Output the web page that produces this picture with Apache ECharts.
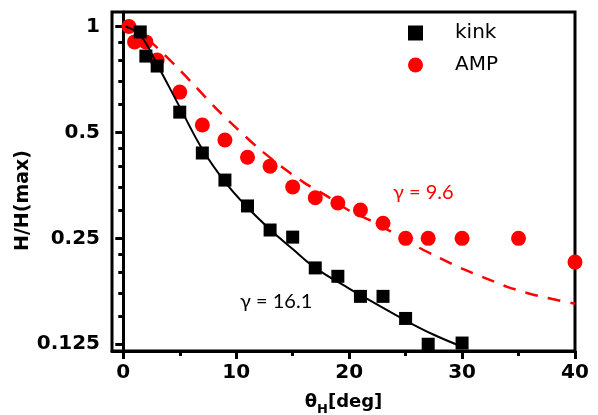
<!DOCTYPE html>
<html>
<head>
<meta charset="utf-8">
<script src="https://cdn.jsdelivr.net/npm/echarts@6/dist/echarts.min.js"></script>
<style>
  html, body { margin: 0; padding: 0; background: #fff; }
  #chart { width: 598px; height: 415px; }
</style>
</head>
<body>
<div id="chart"></div>
<script>
// Measured points: normalised height vs. tilt angle
const kinkTheta = [1.5, 2, 3, 5, 7, 9, 11, 13, 15, 17, 19, 21, 23, 25, 27, 30];
const kinkH     = [0.965, 0.824, 0.772, 0.571, 0.437, 0.366, 0.309, 0.264, 0.252, 0.206, 0.195, 0.171, 0.171, 0.148, 0.125, 0.126];

const ampTheta = [0.5, 1, 2, 3, 5, 7, 9, 11, 13, 15, 17, 19, 21, 23, 25, 27, 30, 35, 40];
const ampH     = [1.0, 0.904, 0.904, 0.803, 0.651, 0.525, 0.476, 0.425, 0.401, 0.350, 0.326, 0.315, 0.301, 0.276, 0.25, 0.25, 0.25, 0.25, 0.214];

// Fitted curves
const kinkFitTheta = [0.2, 1.5, 3, 5, 7, 9, 11, 13, 15, 17, 20, 22.5, 25, 27.5, 30];
const kinkFitH     = [1.0, 0.945, 0.78, 0.59, 0.448, 0.362, 0.306, 0.265, 0.233, 0.206, 0.18, 0.162, 0.146, 0.133, 0.123];

const ampFitTheta = [0.5, 2.5, 4.6, 6.4, 8.1, 10, 12, 14, 16, 18, 20, 22, 24, 26, 28, 30, 32, 34, 36, 38, 40];
const ampFitH     = [1.0, 0.9, 0.775, 0.675, 0.59, 0.515, 0.45, 0.4, 0.36, 0.33, 0.3, 0.28, 0.258, 0.237, 0.22, 0.205, 0.193, 0.182, 0.174, 0.168, 0.163];

// Axis ticks
const xMajorTicks = [0, 10, 20, 30, 40];
const xMinorTicks = [5, 15, 25, 35];
const yMajorTicks = [0.125, 0.25, 0.5, 1];
const yMinorTicks = [0.15, 0.175, 0.2, 0.225, 0.3, 0.35, 0.4, 0.45, 0.6, 0.7, 0.8, 0.9];

const labels = { fit1: 'γ = 16.1', fit2: 'γ = 9.6' };

const pair = (xs, ys) => xs.map((x, i) => [x, ys[i]]);

const X_MIN = -1, X_MAX = 40;
const Y_MIN = 0.1196, Y_MAX = 1.0995;
const tickFont = { fontFamily: 'DejaVu Sans', fontWeight: 'bold', fontSize: 20, color: '#000' };

const chart = echarts.init(document.getElementById('chart'), null, { renderer: 'canvas' });

chart.setOption({
  backgroundColor: '#fff',
  animation: false,
  grid: {
    left: 112, right: 23, top: 12, bottom: 64,
    outerBoundsMode: 'none', containLabel: false,
    show: true, borderColor: '#000', borderWidth: 3, backgroundColor: 'transparent'
  },
  legend: {
    orient: 'vertical',
    left: 403, top: 18,
    itemWidth: 15, itemHeight: 15, itemGap: 12,
    textStyle: { fontFamily: 'DejaVu Sans', fontSize: 20, color: '#000', padding: [0, 0, 0, 27] },
    data: [
      { name: 'kink', icon: 'rect' },
      { name: 'AMP', icon: 'circle' }
    ]
  },
  xAxis: [
    {
      type: 'value', min: X_MIN, max: X_MAX, position: 'bottom',
      name: '{t|θ}{s|H}{t|[deg]}',
      nameLocation: 'middle', nameGap: 38, nameMoveOverlap: false,
      nameTextStyle: {
        rich: {
          t: { fontFamily: 'DejaVu Sans', fontWeight: 'bold', fontSize: 18, color: '#000' },
          s: { fontFamily: 'DejaVu Sans', fontWeight: 'bold', fontSize: 13, color: '#000', padding: [14, 0, 0, 0] }
        }
      },
      axisLine: { show: true, lineStyle: { color: '#000', width: 3 } },
      axisTick: { show: true, inside: false, length: 8, lineStyle: { color: '#000', width: 3 }, customValues: xMajorTicks },
      axisLabel: Object.assign({ margin: 12, customValues: xMajorTicks }, tickFont),
      splitLine: { show: false }
    },
    {
      type: 'value', min: X_MIN, max: X_MAX, position: 'bottom', offset: 0,
      axisLine: { show: false },
      axisTick: { show: true, inside: false, length: 5, lineStyle: { color: '#000', width: 3 }, customValues: xMinorTicks },
      axisLabel: { show: false },
      splitLine: { show: false }
    }
  ],
  yAxis: [
    {
      type: 'log', logBase: 2, min: Y_MIN, max: Y_MAX, position: 'left',
      name: 'H/H(max)',
      nameLocation: 'middle', nameGap: 79, nameRotate: 90, nameMoveOverlap: false,
      nameTextStyle: { fontFamily: 'DejaVu Sans', fontWeight: 'bold', fontSize: 19, color: '#000', padding: [0, 38, 0, 0] },
      axisLine: { show: true, lineStyle: { color: '#000', width: 3 } },
      axisTick: { show: true, inside: false, length: 8, lineStyle: { color: '#000', width: 3 }, customValues: yMajorTicks },
      axisLabel: Object.assign({ margin: 12, customValues: yMajorTicks, formatter: v => String(v) }, tickFont),
      splitLine: { show: false }
    },
    {
      type: 'log', logBase: 2, min: Y_MIN, max: Y_MAX, position: 'left', offset: 0,
      axisLine: { show: false },
      axisTick: { show: true, inside: false, length: 5, lineStyle: { color: '#000', width: 3 }, customValues: yMinorTicks },
      axisLabel: { show: false },
      splitLine: { show: false }
    }
  ],
  series: [
    {
      name: 'AMP', type: 'scatter', symbol: 'circle', symbolSize: 15,
      itemStyle: { color: '#ff0000', opacity: 1 },
      data: pair(ampTheta, ampH), z: 2
    },
    {
      name: 'AMP fit', type: 'line', showSymbol: false, symbol: 'none', smooth: 0.25,
      lineStyle: { color: '#ff0000', width: 2.5, type: [13, 10] },
      data: pair(ampFitTheta, ampFitH), z: 3
    },
    {
      name: 'kink', type: 'scatter', symbol: 'rect', symbolSize: 13,
      itemStyle: { color: '#000', opacity: 1 },
      data: pair(kinkTheta, kinkH), z: 4
    },
    {
      name: 'kink fit', type: 'line', showSymbol: false, symbol: 'none', smooth: 0.4,
      lineStyle: { color: '#000', width: 2 },
      data: pair(kinkFitTheta, kinkFitH), z: 5
    }
  ],
  graphic: [
    {
      type: 'text', left: 240, top: 292, z: 10,
      style: { text: labels.fit1, fill: '#000', font: '20px Lato' }
    },
    {
      type: 'text', left: 393, top: 183, z: 10,
      style: { text: labels.fit2, fill: '#ff0000', font: '20px Lato' }
    }
  ]
});
</script>
</body>
</html>
